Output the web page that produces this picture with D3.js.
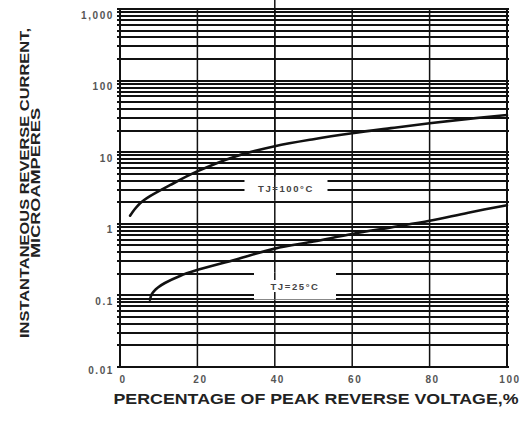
<!DOCTYPE html>
<html>
<head>
<meta charset="utf-8">
<script src="https://cdn.jsdelivr.net/npm/d3@7"></script>
<style>
  html, body { margin: 0; padding: 0; background: #fff; }
  svg { display: block; font-family: "Liberation Sans", Arial, sans-serif; }
</style>
</head>
<body>
<svg id="chart" width="526" height="421"></svg>
<script>
// Percentage of peak reverse voltage vs. reverse current (µA)
const xTicks = [0, 20, 40, 60, 80, 100];
const xTickLabels = ["0", "20", "40", "60", "80", "100"];
const yTicks = [1000, 100, 10, 1, 0.1, 0.01];
const yTickLabels = ["1,000", "100", "10", "1", "0.1", "0.01"];

// TJ = 100°C curve
const pct100 = [2.6, 3.9, 5.2, 7.75, 12.9, 19.5, 30, 40, 50, 60, 70, 80, 90, 100];
const cur100 = [1.3, 1.62, 1.94, 2.43, 3.46, 5.26, 8.8, 12.1, 15.2, 18.4, 21.7, 25.4, 29.2, 33];

// TJ = 25°C curve
const pct25 = [7.75, 8.15, 8.8, 9.8, 11.6, 15.5, 19.5, 30, 40, 50, 60, 70, 80, 90, 100];
const cur25 = [0.087, 0.103, 0.115, 0.129, 0.149, 0.187, 0.222, 0.318, 0.45, 0.565, 0.72, 0.89, 1.1, 1.43, 1.82];

const svg = d3.select("#chart");
const plotL = 120, plotR = 507, plotT = 9, plotB = 367;

const x = d3.scaleLinear().domain([0, 100]).range([plotL, plotR]);
const y = d3.scaleLog().domain([0.01, 1000]).range([plotB, plotT]);

const ink = "#111";

// Horizontal grid: every 1..9 step of each decade
const minor = [];
for (let e = -2; e < 3; e++) {
  for (let m = 1; m < 10; m++) minor.push(m * Math.pow(10, e));
}
minor.push(1000);

svg.append("g").selectAll("line").data(minor).join("line")
  .attr("x1", plotL - 3).attr("x2", plotR + 2)
  .attr("y1", d => Math.round(y(d))).attr("y2", d => Math.round(y(d)))
  .attr("stroke", ink).attr("stroke-width", 2.1);

// Vertical grid
const vStroke = d => (d === 0 || d === 100) ? 2 : 1.5;
svg.append("g").selectAll("line").data(xTicks).join("line")
  .attr("x1", d => x(d)).attr("x2", d => x(d))
  .attr("y1", plotT).attr("y2", plotB)
  .attr("stroke", ink).attr("stroke-width", vStroke);

// Bottom frame line
svg.append("line").attr("x1", plotL).attr("x2", plotR).attr("y1", plotB).attr("y2", plotB)
  .attr("stroke", ink).attr("stroke-width", 2.2);

// Curves
const line = d3.line().x(d => x(d[0])).y(d => y(d[1])).curve(d3.curveCatmullRom.alpha(0.5));
const s100 = pct100.map((p, i) => [p, cur100[i]]);
const s25 = pct25.map((p, i) => [p, cur25[i]]);

[s100, s25].forEach(s => {
  svg.append("path").datum(s).attr("d", line)
    .attr("fill", "none").attr("stroke", ink).attr("stroke-width", 2.6)
    .attr("stroke-linecap", "round");
});

// Curve labels on white boxes; the 40% grid line is restored where it runs past the text
function curveLabel(text, cx, cy, w, h, gapTop, gapBot) {
  svg.append("rect").attr("x", cx - w / 2).attr("y", cy - h / 2)
    .attr("width", w).attr("height", h).attr("fill", "#fff");
  const gx = x(40);
  [[cy - h / 2, gapTop], [gapBot, cy + h / 2]].forEach(([a, b]) => {
    if (b > a) svg.append("line").attr("x1", gx).attr("x2", gx).attr("y1", a).attr("y2", b)
      .attr("stroke", ink).attr("stroke-width", 1.5);
  });
  svg.append("text").attr("x", cx).attr("y", cy)
    .attr("text-anchor", "middle").attr("dominant-baseline", "central")
    .attr("font-size", 9.5).attr("font-weight", "bold").attr("fill", "#444")
    .attr("letter-spacing", 1.6)
    .text(text);
}
curveLabel("TJ=100°C", 286, 188.5, 83, 24, 0, 0);
curveLabel("TJ=25°C", 295, 286, 82, 27, 280, 292);

// Y tick labels
svg.append("g").selectAll("text").data(yTicks).join("text")
  .attr("x", 114)
  .attr("y", d => y(d) + (d === 0.01 ? 3 : 6))
  .attr("text-anchor", "end").attr("dominant-baseline", "central")
  .attr("font-size", 10).attr("font-weight", "bold").attr("fill", "#555")
  .attr("letter-spacing", 1.6)
  .text((d, i) => yTickLabels[i]);

// X tick labels
svg.append("g").selectAll("text").data(xTicks).join("text")
  .attr("x", d => x(d) + 3)
  .attr("y", 379)
  .attr("text-anchor", "middle").attr("dominant-baseline", "central")
  .attr("font-size", 10).attr("font-weight", "bold").attr("fill", "#555")
  .attr("letter-spacing", 1.6)
  .text((d, i) => xTickLabels[i]);

// Axis titles
svg.append("text").attr("x", 316).attr("y", 403.5)
  .attr("text-anchor", "middle")
  .attr("font-size", 15).attr("font-weight", "bold").attr("fill", "#222")
  .attr("textLength", 405).attr("lengthAdjust", "spacingAndGlyphs")
  .text("PERCENTAGE OF PEAK REVERSE VOLTAGE,%");

const yt = svg.append("g").attr("transform", "translate(0,183) rotate(-90)");
yt.append("text").attr("x", 0).attr("y", 29)
  .attr("text-anchor", "middle")
  .attr("font-size", 13.5).attr("font-weight", "bold").attr("fill", "#222")
  .attr("textLength", 310).attr("lengthAdjust", "spacingAndGlyphs")
  .text("INSTANTANEOUS REVERSE CURRENT,");
yt.append("text").attr("x", 0).attr("y", 40)
  .attr("text-anchor", "middle")
  .attr("font-size", 13.5).attr("font-weight", "bold").attr("fill", "#222")
  .attr("textLength", 150).attr("lengthAdjust", "spacingAndGlyphs")
  .text("MICROAMPERES");
</script>
</body>
</html>
